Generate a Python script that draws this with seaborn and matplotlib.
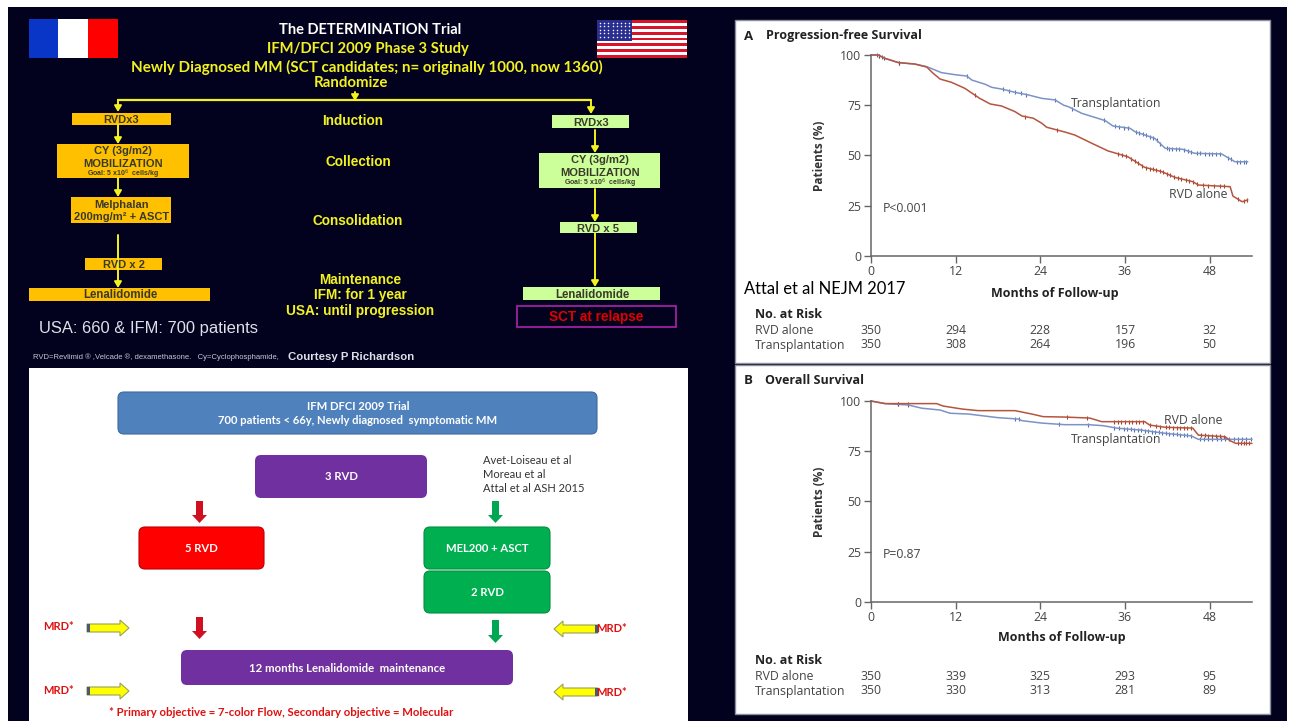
import numpy as np
import pandas as pd
import matplotlib
matplotlib.use('Agg')
import matplotlib.pyplot as plt
from matplotlib.patches import Rectangle, FancyBboxPatch, Polygon
import seaborn as sns

# --- DATA ---
pfs_tx_months = [0, 1, 2, 3.9, 6.2, 7.9, 9.3, 10, 11.9, 13.6, 14.3, 16.2, 17.1, 18.7, 20.4, 22.3, 24.2, 26.1, 27.3, 28, 29.9, 33.2, 34.3, 36.7, 37.4, 40.2, 41.7, 44.2, 45.9, 49.7, 50.5, 51.6, 53.4]
pfs_tx_values = [100, 100, 98.3, 96.2, 95.5, 94.2, 92.2, 91.2, 90.2, 89.5, 87.5, 85.4, 83.9, 82.9, 81.4, 80.1, 78.4, 77.6, 75, 74.2, 70.9, 67.3, 64.6, 63.5, 61.8, 58.5, 53.5, 53, 51, 50.7, 49, 46.8, 46.8]
pfs_rvd_months = [0, 1, 2, 3.9, 6.2, 7.9, 8.8, 9.8, 11.4, 13.3, 15.4, 16.9, 18.5, 20.4, 21.4, 23, 24.2, 24.9, 27.5, 28.9, 31.3, 33.6, 36.4, 38.8, 41.2, 43.1, 45.6, 46.4, 50.9, 51.3, 52.6, 53.4]
pfs_rvd_values = [100, 100, 98.3, 96.2, 95.5, 94, 90.9, 88, 86.4, 83.4, 78.4, 75.6, 74.6, 71.8, 69.6, 68.5, 66, 64, 61.6, 60.1, 56, 52.2, 49.3, 44, 41.9, 39, 36.9, 35.2, 34.4, 29.7, 26.9, 27.8]
os_tx_months = [0, 2, 5.3, 7.2, 9.8, 11.2, 13.8, 18, 20.9, 21.4, 24.2, 27.5, 30.8, 32.9, 35, 38.3, 41.7, 45.4, 46.4, 54]
os_tx_values = [100, 98.7, 98, 96.4, 95.5, 93.9, 93.5, 91.7, 91, 90.2, 89, 88.2, 88.2, 87.7, 86.4, 85.5, 83.9, 82.6, 80.9, 80.9]
os_rvd_months = [0, 2, 9.3, 10.2, 12.9, 15.2, 20.4, 22.8, 24.4, 27.5, 31, 32.7, 38.8, 39.5, 41.7, 45.6, 46.4, 50.2, 50.9, 51.7, 54]
os_rvd_values = [100, 98.7, 98.7, 97.5, 96, 95.2, 95.2, 93.5, 92.2, 92, 91.5, 89.7, 89.7, 88, 86.9, 86.5, 83, 82.2, 80.2, 78.9, 78.9]

# censoring ticks, months only (they sit on the curve)
pfs_tx_censor = [0.8, 1.2, 1.6, 3.9, 13.6, 18.7, 19.6, 20.4, 21.2, 22, 26.1, 28.5, 33, 34.6, 35.2, 35.9, 36.4, 37.6, 38, 38.5, 39, 39.5, 40, 40.5, 41, 41.9, 42.3, 42.7, 43.2, 43.7, 44.4, 44.9, 45.3, 46.2, 46.7, 47.3, 47.9, 48.4, 48.9, 49.4, 50.6, 51, 51.9, 52.3, 52.8, 53.2]
pfs_rvd_censor = [1.2, 1.8, 3.9, 14.8, 21.8, 26.4, 35, 35.6, 36.2, 36.8, 37.4, 37.9, 38.4, 39, 39.5, 40, 40.4, 40.9, 41.4, 41.9, 42.4, 43, 43.5, 44, 44.6, 45.1, 45.6, 46.2, 47, 47.8, 48.6, 49.4, 50.1, 52, 52.8, 53.3]
os_tx_censor = [3.8, 5.3, 20.4, 21, 26.6, 30.8, 34.5, 35.2, 35.8, 36.3, 36.8, 37.3, 37.8, 38.3, 38.8, 39.3, 39.8, 40.3, 40.8, 41.3, 41.8, 42.3, 42.8, 43.3, 43.8, 44.3, 44.8, 45.3, 46.6, 47.2, 47.8, 48.4, 49, 49.6, 50.2, 50.8, 51.4, 52, 52.6, 53.2, 53.8]
os_rvd_censor = [3.8, 5.3, 27.8, 30.6, 34.5, 35, 35.5, 36, 36.5, 37, 37.5, 38, 38.5, 39.6, 40.4, 41, 41.8, 42.3, 42.8, 43.3, 43.8, 44.3, 44.8, 45.3, 46.8, 47.3, 47.8, 48.3, 48.9, 49.5, 50, 52, 52.4, 52.8, 53.2, 53.6]

risk_months = [0, 12, 24, 36, 48]
pfs_risk_rvd = [350, 294, 228, 157, 32]
pfs_risk_tx = [350, 308, 264, 196, 50]
os_risk_rvd = [350, 339, 325, 293, 95]
os_risk_tx = [350, 330, 313, 281, 89]
y_ticks = [0, 25, 50, 75, 100]

W, H = 1293, 721
NAVY = '#02021f'
ORANGE = '#ffc000'
LIGHT = '#ccff99'
YELLOW = '#f2f21e'
SLIDE = 'Lato'
ARIAL = 'Liberation Sans'
NEJM = 'Open Sans'
BLUE_LINE = '#7c93c6'
RED_LINE = '#b5553f'
BLUE_TICK = '#4a6cb0'
RED_TICK = '#a83a20'

sns.set_theme(style='white')
plt.rcParams['font.family'] = ['Liberation Sans', 'DejaVu Sans']

fig = plt.figure(figsize=(W / 100, H / 100), dpi=100, facecolor='white')
bg = fig.add_axes([0, 0, 1, 1])
bg.set_xlim(0, W)
bg.set_ylim(H, 0)
bg.axis('off')


def box(x0, y0, x1, y1, color, ec='none', lw=0, z=2):
    bg.add_patch(Rectangle((x0, y0), x1 - x0, y1 - y0, fc=color, ec=ec, lw=lw, zorder=z))


def rbox(x0, y0, x1, y1, color, ec='none'):
    bg.add_patch(FancyBboxPatch((x0 + 6, y0 + 6), x1 - x0 - 12, y1 - y0 - 12,
                                boxstyle='round,pad=6', fc=color, ec=ec, lw=0.8, zorder=2))


def txt(x, y, s, size=10, color='black', weight='normal', family=ARIAL, ha='center', **kw):
    bg.text(x, y + 1, s, fontsize=size, color=color, fontweight=weight, family=family,
            ha=ha, va='center', zorder=5, **kw)


def yarrow(x, y0, y1):
    bg.annotate('', xy=(x, y1), xytext=(x, y0), zorder=4,
                arrowprops=dict(arrowstyle='-|>,head_width=0.18,head_length=0.3', color=YELLOW, lw=1.4,
                                shrinkA=0, shrinkB=0))


def block_down(x, y0, y1, color):
    pts = [(x - 3.5, y0), (x + 3.5, y0), (x + 3.5, y1 - 8), (x + 7.5, y1 - 8), (x, y1), (x - 7.5, y1 - 8), (x - 3.5, y1 - 8)]
    bg.add_patch(Polygon(pts, fc=color, ec='none', zorder=3))


def block_side(x0, x1, y, right=True):
    d = 1 if right else -1
    tip, tail = (x1, x0) if right else (x0, x1)
    pts = [(tail, y - 4), (tip - d * 9, y - 4), (tip - d * 9, y - 8), (tip, y), (tip - d * 9, y + 8), (tip - d * 9, y + 4), (tail, y + 4)]
    bg.add_patch(Polygon(pts, fc='#ffff00', ec='#9aa05a', lw=0.8, zorder=3))
    bx = (tail, tail + 3) if right else (tail - 3, tail)
    box(bx[0], y - 4, bx[1], y + 4, '#4a5a70', z=4)


# --- BACKGROUND ---
box(8, 7, 1287, 721, NAVY, z=0)
box(29, 368, 688, 721, 'white', z=1)
box(735, 20, 1270, 363, 'white', ec='#8a8f9c', lw=1, z=1)
box(735, 365, 1270, 714, 'white', ec='#8a8f9c', lw=1, z=1)

# --- TOP LEFT SLIDE ---
box(29, 19, 57.5, 58, '#0a36c8')
box(57.5, 19, 88, 58, 'white')
box(88, 19, 118, 58, '#ff0000')
box(597, 20, 687, 58, 'white')
for i in range(7):
    box(597, 20 + i * 5.85, 687, 20 + i * 5.85 + 2.9, '#d8142a', z=3)
box(597, 20, 632, 41, '#2a2f8f', z=4)
star_x, star_y = np.meshgrid(np.arange(600, 632, 4.2), np.arange(23, 40, 3.4))
bg.scatter(star_x.ravel(), star_y.ravel(), s=1.2, c='white', lw=0, zorder=5)

txt(370, 29, 'The DETERMINATION Trial', 10.5, 'white', 'bold', SLIDE)
txt(368, 48, 'IFM/DFCI 2009 Phase 3 Study', 10.6, YELLOW, 'bold', SLIDE)
txt(367, 66, 'Newly Diagnosed MM (SCT candidates; n= originally 1000, now 1360)', 10.9, YELLOW, 'bold', SLIDE)
txt(351, 82, 'Randomize', 10.8, YELLOW, 'bold', SLIDE)

bg.plot([118, 591], [100, 100], color=YELLOW, lw=1.6, zorder=3)
yarrow(355, 92, 101)
yarrow(118, 100, 112)
yarrow(591, 100, 114)
yarrow(118, 125, 144)
yarrow(118, 178, 197)
bg.plot([118, 118], [235, 258], color=YELLOW, lw=1.4, zorder=4)
yarrow(118, 258, 288)
yarrow(595, 130, 153)
yarrow(595, 189, 222)
yarrow(595, 233, 287)

box(71.5, 113, 170.5, 125, ORANGE)
txt(121, 119, 'RVDx3', 8, '#3a3a2a', 'bold')
box(57, 144, 189, 178, ORANGE)
txt(123, 150.5, 'CY (3g/m2)', 8, '#3a3a2a', 'bold')
txt(123, 163, 'MOBILIZATION', 8, '#3a3a2a', 'bold')
txt(123, 173, 'Goal: 5 x10$^6$  cells/kg', 5, '#3a3a2a', 'bold')
box(71, 197, 171, 223, ORANGE)
txt(122, 204, 'Melphalan', 8, '#3a3a2a', 'bold')
txt(122, 216, '200mg/m² + ASCT', 8, '#3a3a2a', 'bold')
box(85, 258, 162, 270, ORANGE)
txt(124, 264, 'RVD x 2', 8, '#3a3a2a', 'bold')
box(29, 288, 210, 301, ORANGE)
txt(120, 294.5, 'Lenalidomide', 8.3, '#3a3a2a', 'bold')

box(552, 115, 629, 128, LIGHT)
txt(591, 121.5, 'RVDx3', 8, '#3a3a2a', 'bold')
box(539, 153, 660, 188, LIGHT)
txt(600, 159, 'CY (3g/m2)', 8, '#3a3a2a', 'bold')
txt(600, 171.5, 'MOBILIZATION', 8, '#3a3a2a', 'bold')
txt(600, 182, 'Goal: 5 x10$^6$  cells/kg', 5, '#3a3a2a', 'bold')
box(560, 222, 637, 233, LIGHT)
txt(598, 227.5, 'RVD x 5', 8, '#3a3a2a', 'bold')
box(523, 287, 660, 300, LIGHT)
txt(592, 293.5, 'Lenalidomide', 8.3, '#3a3a2a', 'bold')
box(517, 306, 676, 327, 'none', ec='#a020a0', lw=1.3)
txt(596, 316, 'SCT at relapse', 9.8, '#e00000', 'bold')

txt(353, 120, 'Induction', 9.8, YELLOW, 'bold')
txt(358, 161, 'Collection', 9.8, YELLOW, 'bold')
txt(358, 220, 'Consolidation', 9.8, YELLOW, 'bold')
txt(360, 279, 'Maintenance', 9.8, YELLOW, 'bold')
txt(360, 294, 'IFM: for 1 year', 9.8, YELLOW, 'bold')
txt(360, 310, 'USA: until progression', 9.8, YELLOW, 'bold')
txt(39, 328, 'USA: 660 & IFM: 700 patients', 11.9, '#dfe0ea', ha='left')
txt(33, 356, 'RVD=Revlimid ® ,Velcade ®, dexamethasone.   Cy=Cyclophosphamide,', 5.5, '#c8c8d4', ha='left')
txt(288, 356, 'Courtesy P Richardson', 8.2, '#dfe0ea', 'bold', ha='left')

# --- BOTTOM LEFT SLIDE ---
rbox(118, 392, 597, 434, '#4f81bd', ec='#3d6a9e')
txt(358, 405, 'IFM DFCI 2009 Trial', 8.1, 'white', 'bold', SLIDE)
txt(358, 420, '700 patients < 66y, Newly diagnosed  symptomatic MM', 8.1, 'white', 'bold', SLIDE)
rbox(255, 455, 427, 498, '#7030a0')
txt(341, 476, '3 RVD', 8.1, 'white', 'bold', SLIDE)
txt(483, 459, 'Avet-Loiseau et al', 8, '#333', family=SLIDE, ha='left')
txt(483, 473, 'Moreau et al', 8, '#333', family=SLIDE, ha='left')
txt(483, 487, 'Attal et al ASH 2015', 8, '#333', family=SLIDE, ha='left')
rbox(139, 527, 264, 569, '#ff0000', ec='#c00000')
txt(201, 547, '5 RVD', 8.1, 'white', 'bold', SLIDE)
rbox(424, 527, 550, 569, '#00b050', ec='#009040')
txt(487, 547, 'MEL200 + ASCT', 8.1, 'white', 'bold', SLIDE)
rbox(424, 571, 550, 613, '#00b050', ec='#009040')
txt(487, 592, '2 RVD', 8.1, 'white', 'bold', SLIDE)
rbox(181, 650, 513, 685, '#7030a0')
txt(347, 667, '12 months Lenalidomide  maintenance', 8.2, 'white', 'bold', SLIDE)
block_down(199.5, 501, 523, '#d01020')
block_down(199.5, 617, 639, '#d01020')
block_down(495.5, 501, 523, '#00a651')
block_down(495.5, 620, 643, '#00a651')
for y in [628, 691]:
    txt(43, y - 2, 'MRD*', 8, '#e01010', 'bold', SLIDE, ha='left')
    block_side(87, 129, y, True)
    block_side(554, 598, y + 1, False)
    txt(596, y, 'MRD*', 8, '#e01010', 'bold', SLIDE, ha='left')
txt(281, 712, '* Primary objective = 7-color Flow, Secondary objective = Molecular', 8.2, '#e01010', 'bold', SLIDE)


# --- SURVIVAL PANELS ---
def survival(y_top, y_zero, tx_m, tx_v, rvd_m, rvd_v, tx_c, rvd_c):
    x0, x1 = 871, 1252
    ax = fig.add_axes([x0 / W, 1 - y_zero / H, (x1 - x0) / W, (y_zero - y_top) / H], facecolor='none')
    df = pd.concat([pd.DataFrame({'m': tx_m, 'v': tx_v, 's': 'tx'}),
                    pd.DataFrame({'m': rvd_m, 'v': rvd_v, 's': 'rvd'})])
    # the real steps are tiny at this size, so join the read points directly
    sns.lineplot(data=df, x='m', y='v', hue='s', palette={'tx': BLUE_LINE, 'rvd': RED_LINE},
                 errorbar=None, legend=False, lw=1.1, clip_on=False, ax=ax)
    # censoring ticks sit on the curve at their month
    sns.scatterplot(x=tx_c, y=np.interp(tx_c, tx_m, tx_v), marker='|', s=7, color=BLUE_TICK,
                    linewidth=0.8, clip_on=False, legend=False, ax=ax)
    sns.scatterplot(x=rvd_c, y=np.interp(rvd_c, rvd_m, rvd_v), marker='|', s=7, color=RED_TICK,
                    linewidth=0.8, clip_on=False, legend=False, ax=ax)
    ax.set_xlim(0, 54)
    ax.set_ylim(0, 100)
    ax.set_xticks(risk_months)
    ax.set_yticks(y_ticks)
    ax.set_xlabel('')
    ax.set_ylabel('Patients (%)', fontsize=8.5, fontweight='bold', family=NEJM, color='#333')
    ax.yaxis.set_label_coords(-45 / (x1 - x0), 0.5)
    ax.tick_params(length=5, width=1, color='#666', labelcolor='#444', labelsize=8.8, pad=2,
                   left=True, bottom=True)
    for lab in ax.get_xticklabels() + ax.get_yticklabels():
        lab.set_family(NEJM)
    sns.despine(ax=ax)
    for side in ['left', 'bottom']:
        ax.spines[side].set_color('#666')
        ax.spines[side].set_linewidth(1.1)
    return ax


ax_a = survival(55, 255.7, pfs_tx_months, pfs_tx_values, pfs_rvd_months, pfs_rvd_values, pfs_tx_censor, pfs_rvd_censor)
ax_b = survival(401, 601.7, os_tx_months, os_tx_values, os_rvd_months, os_rvd_values, os_tx_censor, os_rvd_censor)


def risk_table(y_head, rvd, tx):
    txt(755, y_head, 'No. at Risk', 9, '#222', 'bold', NEJM, ha='left')
    txt(755, y_head + 15.5, 'RVD alone', 8.8, '#444', family=NEJM, ha='left')
    txt(755, y_head + 30, 'Transplantation', 8.8, '#444', family=NEJM, ha='left')
    for m, a, b in zip(risk_months, rvd, tx):
        px = 871 + m * 381 / 54
        txt(px, y_head + 15.5, str(a), 8.8, '#444', family=NEJM)
        txt(px, y_head + 30, str(b), 8.8, '#444', family=NEJM)


txt(744, 35, 'A', 9.5, '#222', 'bold', NEJM, ha='left')
txt(765.5, 35, 'Progression-free Survival', 9, '#222', 'bold', NEJM, ha='left')
txt(1116, 103, 'Transplantation', 8.8, '#444', family=NEJM)
txt(1198, 193, 'RVD alone', 8.8, '#444', family=NEJM)
txt(882.5, 208, 'P<0.001', 8.8, '#444', family=NEJM, ha='left')
txt(1055, 292, 'Months of Follow-up', 9, '#222', 'bold', NEJM)
txt(744, 288, 'Attal et al NEJM 2017', 11.9, 'black', family=SLIDE, ha='left')
risk_table(314, pfs_risk_rvd, pfs_risk_tx)

txt(744, 379, 'B', 9.5, '#222', 'bold', NEJM, ha='left')
txt(765, 379, 'Overall Survival', 9, '#222', 'bold', NEJM, ha='left')
txt(1193, 419, 'RVD alone', 8.8, '#444', family=NEJM)
txt(1116, 439, 'Transplantation', 8.8, '#444', family=NEJM)
txt(882.5, 554, 'P=0.87', 8.8, '#444', family=NEJM, ha='left')
txt(1062, 637, 'Months of Follow-up', 9, '#222', 'bold', NEJM)
risk_table(660, os_risk_rvd, os_risk_tx)

fig.savefig('out.png', dpi=100)
